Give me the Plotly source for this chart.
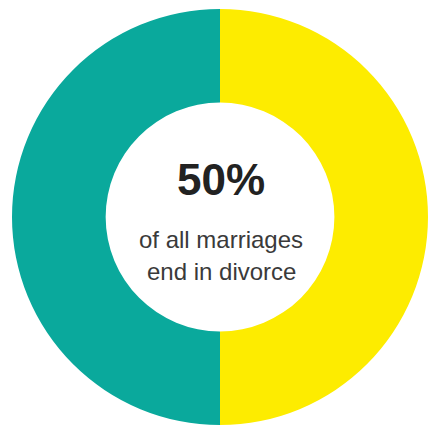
import plotly.graph_objects as go

labels = ["End in divorce", "Do not end in divorce"]
values = [50, 50]
colors = ["#0AA99C", "#FDEC00"]
headline = "50%"
line1 = "of all marriages"
line2 = "end in divorce"

W, H = 428, 429

fig = go.Figure(go.Pie(
    labels=labels,
    values=values,
    hole=0.55,
    sort=False,
    direction="clockwise",
    rotation=180,
    marker=dict(colors=colors, line=dict(width=0)),
    textinfo="none",
    hoverinfo="none",
    domain=dict(x=[12 / W, 1], y=[1 - 427 / H, 1 - 7 / H]),
))

fig.add_annotation(text="<b>%s</b>" % headline, x=221 / W, y=1 - 179 / H, xref="paper", yref="paper",
                   showarrow=False, font=dict(family="Liberation Sans, Arial", size=44, color="#222222"),
                   xanchor="center", yanchor="middle")
fig.add_annotation(text=line1, x=221 / W, y=1 - 239 / H, xref="paper", yref="paper",
                   showarrow=False, font=dict(family="Liberation Sans, Arial", size=24, color="#3a3a3a"),
                   xanchor="center", yanchor="middle")
fig.add_annotation(text=line2, x=221 / W, y=1 - 271 / H, xref="paper", yref="paper",
                   showarrow=False, font=dict(family="Liberation Sans, Arial", size=24, color="#3a3a3a"),
                   xanchor="center", yanchor="middle")

fig.update_layout(
    width=W, height=H,
    margin=dict(l=0, r=0, t=0, b=0),
    showlegend=False,
    paper_bgcolor="white",
    plot_bgcolor="white",
)

fig.write_html("out.html", config={"displayModeBar": False},
               post_script="document.body.style.margin='0';document.body.style.overflow='hidden';")
